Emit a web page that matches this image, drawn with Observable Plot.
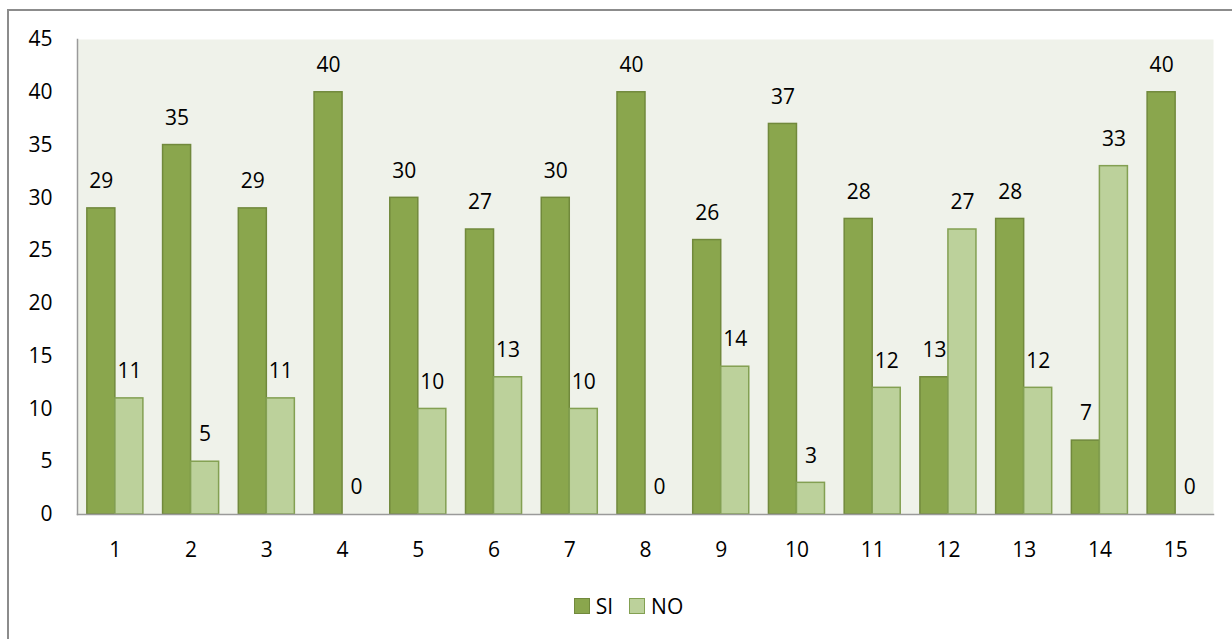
<!DOCTYPE html>
<html><head><meta charset="utf-8">
<script src="https://cdn.jsdelivr.net/npm/d3@7"></script>
<script src="https://cdn.jsdelivr.net/npm/@observablehq/plot@0.6"></script>
<style>
body{margin:0;background:#fff;font-family:"Open Sans",sans-serif;overflow:hidden;}
#box{position:absolute;left:7px;top:9px;width:1260px;height:700px;border:2px solid #8c8c8c;box-sizing:border-box;}
#chart{position:absolute;left:0;top:0;}
#legend{position:absolute;left:8px;top:581px;width:1223px;display:flex;justify-content:center;align-items:center;font-size:21px;color:#000;}
.sw{display:inline-block;width:16px;height:16px;margin-right:6px;box-sizing:border-box;}
.item{display:flex;align-items:center;margin:0 8px;}
</style></head>
<body>
<div id="box"><div id="chart"></div><div id="legend"></div></div>
<script>
const categories = ["1","2","3","4","5","6","7","8","9","10","11","12","13","14","15"];
const series = ["SI","NO"];
const siValues = [29,35,29,40,30,27,30,40,26,37,28,13,28,7,40];
const noValues = [11,5,11,0,10,13,10,0,14,3,12,27,12,33,0];
const yTicks = [0,5,10,15,20,25,30,35,40,45];

const fills = {SI:"#8aa64d", NO:"#bcd19b"};
const strokes = {SI:"#71893c", NO:"#83a052"};

const W = 1223, ML = 68, MR = 19;
const pIn = 0.26, pOut = 0.13;
const step = (W - ML - MR) / (categories.length - pIn + 2 * pOut);
const bw = step * (1 - pIn);
const half = bw / 2;

const siData = categories.map((c,i)=>({cat:c, v:siValues[i]}));
const noData = categories.map((c,i)=>({cat:c, v:noValues[i]}));

const plot = Plot.plot({
  width: W,
  height: 560,
  marginTop: 28,
  marginLeft: ML,
  marginRight: MR,
  marginBottom: 57,
  style: {fontFamily:"Open Sans, sans-serif", fontSize:"21px", color:"#000", background:"transparent"},
  x: {domain: categories, paddingInner: pIn, paddingOuter: pOut, round: false, label: null},
  y: {domain: [0,45], label: null},
  marks: [
    Plot.frame({fill:"#eff2ea", stroke:null}),
    Plot.axisY({ticks: yTicks, tickSize: 0, tickPadding: 25, fontSize: 21, label: null}),
    Plot.axisX({anchor:"bottom", tickSize: 0, tickPadding: 28, fontSize: 21, label: null}),
    Plot.barY(siData, {x:"cat", y:"v", fill:fills.SI, stroke:strokes.SI, strokeWidth:1.5, insetLeft:0, insetRight:half}),
    Plot.barY(noData, {x:"cat", y:"v", fill:fills.NO, stroke:strokes.NO, strokeWidth:1.5, insetLeft:half, insetRight:0}),
    Plot.text(siData, {x:"cat", y:"v", text:d=>String(d.v), dx:-half/2, dy:-27, fontSize:21, fill:"#000"}),
    Plot.text(noData, {x:"cat", y:"v", text:d=>String(d.v), dx:half/2, dy:-27, fontSize:21, fill:"#000"}),
    Plot.frame({anchor:"bottom", stroke:"#9a9a9a", strokeWidth:1.5}),
    Plot.frame({anchor:"left", stroke:"#9a9a9a", strokeWidth:1.5})
  ]
});
document.getElementById("chart").appendChild(plot);

const lg = document.getElementById("legend");
series.forEach(s=>{
  const it = document.createElement("div"); it.className="item";
  const sw = document.createElement("span"); sw.className="sw";
  sw.style.background = fills[s]; sw.style.border = "1.5px solid " + strokes[s];
  const t = document.createElement("span"); t.textContent = s;
  it.appendChild(sw); it.appendChild(t); lg.appendChild(it);
});
</script>
</body></html>
